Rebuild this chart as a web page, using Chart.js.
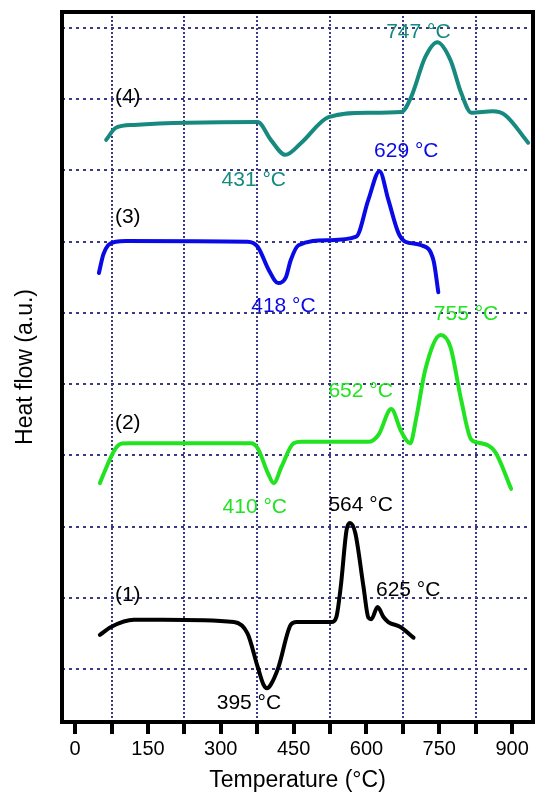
<!DOCTYPE html>
<html>
<head>
<meta charset="utf-8">
<script src="https://cdn.jsdelivr.net/npm/chart.js@4/dist/chart.umd.min.js"></script>
<style>
  body { margin: 0; background: #fff; }
</style>
</head>
<body>
<canvas id="myChart" width="538" height="795"></canvas>
<script>
// temperature (°C) and heat flow (grid units)
var t1 = [51, 74, 121, 180, 327, 355, 376, 388, 395, 403, 419, 444, 456, 528, 538, 547, 559, 566, 577, 594, 604, 610, 623, 635, 645, 670, 697];
var h1 = [0.48, 0.59, 0.69, 0.69, 0.66, 0.5, 0.03, -0.22, -0.27, -0.22, 0.03, 0.62, 0.66, 0.66, 0.73, 1.15, 1.95, 2.05, 1.91, 1.15, 0.72, 0.7, 0.87, 0.73, 0.66, 0.59, 0.44];

var t2 = [51, 74, 86, 96, 112, 362, 376, 397, 409, 425, 450, 466, 604, 625, 651, 672, 690, 703, 721, 753, 773, 795, 816, 836, 865, 898];
var h2 = [2.61, 2.98, 3.12, 3.165, 3.17, 3.17, 3.1, 2.75, 2.61, 2.84, 3.17, 3.19, 3.19, 3.29, 3.65, 3.33, 3.17, 3.54, 4.2, 4.69, 4.52, 3.78, 3.22, 3.17, 3.05, 2.53];

var t3 = [49, 58, 68, 84, 105, 355, 376, 399, 418, 434, 444, 460, 522, 579, 604, 627, 645, 666, 680, 713, 738, 748];
var h3 = [5.56, 5.82, 5.95, 6.0, 6.01, 6.0, 5.93, 5.6, 5.42, 5.5, 5.74, 5.95, 6.02, 6.07, 6.59, 6.99, 6.59, 6.12, 6.0, 5.95, 5.74, 5.29];

var t4 = [64, 84, 121, 376, 403, 433, 466, 522, 604, 672, 692, 721, 746, 773, 795, 816, 860, 885, 933];
var h4 = [7.43, 7.6, 7.64, 7.68, 7.43, 7.22, 7.39, 7.75, 7.81, 7.82, 8.03, 8.59, 8.8, 8.55, 8.09, 7.81, 7.83, 7.78, 7.39];

var xTicks = [0, 75, 150, 225, 300, 375, 450, 525, 600, 675, 750, 825, 900];
var yGrid = [0, 1, 2, 3, 4, 5, 6, 7, 8, 9];

var seriesColors = ["#000000", "#22e322", "#0a0ae6", "#178a80"];

var notes = [
	{ text: "(4)", t: 82, v: 8.03, color: "#000", align: "left" },
	{ text: "(3)", t: 82, v: 6.35, color: "#000", align: "left" },
	{ text: "(2)", t: 82, v: 3.45, color: "#000", align: "left" },
	{ text: "(1)", t: 82, v: 1.03, color: "#000", align: "left" },
	{ text: "747 °C", t: 707, v: 8.94, color: "#178a80", align: "center" },
	{ text: "431 °C", t: 368, v: 6.87, color: "#178a80", align: "center" },
	{ text: "629 °C", t: 682, v: 7.27, color: "#0a0ae6", align: "center" },
	{ text: "418 °C", t: 429, v: 5.1, color: "#0a0ae6", align: "center" },
	{ text: "755 °C", t: 805, v: 4.98, color: "#22e322", align: "center" },
	{ text: "652 °C", t: 588, v: 3.9, color: "#22e322", align: "center" },
	{ text: "410 °C", t: 370, v: 2.27, color: "#22e322", align: "center" },
	{ text: "564 °C", t: 588, v: 2.3, color: "#000", align: "center" },
	{ text: "625 °C", t: 686, v: 1.11, color: "#000", align: "center" },
	{ text: "395 °C", t: 358, v: -0.48, color: "#000", align: "center" }
];

var FONT = "'Liberation Sans', Arial, Helvetica, sans-serif";
var GRID = "#3b3b85";

function pts(t, h) {
	return t.map(function (x, i) { return { x: x, y: h[i] }; });
}

var framePlugin = {
	id: "frame",
	afterDraw: function (chart) {
		var ctx = chart.ctx;
		var a = chart.chartArea;
		var xs = chart.scales.x, ys = chart.scales.y;
		ctx.save();
		ctx.font = "21px " + FONT;
		ctx.textBaseline = "middle";
		notes.forEach(function (n) {
			ctx.fillStyle = n.color;
			ctx.textAlign = n.align;
			ctx.fillText(n.text, xs.getPixelForValue(n.t), ys.getPixelForValue(n.v));
		});
		ctx.lineWidth = 4;
		ctx.strokeStyle = "#000";
		ctx.strokeRect(a.left, a.top, a.right - a.left, a.bottom - a.top);
		ctx.restore();
	}
};

var sets = [[t1, h1], [t2, h2], [t3, h3], [t4, h4]].map(function (s, i) {
	return {
		data: pts(s[0], s[1]),
		borderColor: seriesColors[i],
		borderWidth: 4,
		pointRadius: 0,
		fill: false,
		cubicInterpolationMode: "monotone",
		borderCapStyle: "round",
		borderJoinStyle: "round"
	};
});

new Chart("myChart", {
	type: "line",
	data: { datasets: sets },
	plugins: [framePlugin],
	options: {
		responsive: false,
		animation: false,
		layout: { padding: { left: 12, right: 5, top: 12, bottom: 0 } },
		plugins: { legend: { display: false }, tooltip: { enabled: false } },
		scales: {
			x: {
				type: "linear",
				min: -27,
				max: 943,
				afterBuildTicks: function (s) { s.ticks = xTicks.map(function (v) { return { value: v }; }); },
				afterFit: function (s) { s.height = 73; },
				ticks: {
					autoSkip: false,
					maxRotation: 0,
					padding: 3,
					color: "#000",
					font: { family: FONT, size: 20 },
					callback: function (v) { return v % 150 === 0 ? String(v) : ""; }
				},
				grid: {
					color: function (c) { return c.tick && c.tick.value % 150 === 0 ? "rgba(0,0,0,0)" : GRID; },
					lineWidth: 2,
					tickColor: "#000",
					tickWidth: 4,
					tickLength: 12
				},
				border: { display: false, dash: [2, 2] },
				title: {
					display: true,
					text: "Temperature (°C)",
					color: "#000",
					font: { family: FONT, size: 23 },
					padding: { top: 0, bottom: 1 }
				}
			},
			y: {
				min: -0.744,
				max: 9.225,
				afterBuildTicks: function (s) { s.ticks = yGrid.map(function (v) { return { value: v }; }); },
				afterFit: function (s) { s.width = 50; },
				ticks: { display: false },
				grid: { color: GRID, lineWidth: 2, drawTicks: false },
				border: { display: false, dash: [3, 4] },
				title: {
					display: true,
					text: "Heat flow (a.u.)",
					color: "#000",
					font: { family: FONT, size: 23 },
					padding: 0
				}
			}
		}
	}
});
</script>
</body>
</html>
